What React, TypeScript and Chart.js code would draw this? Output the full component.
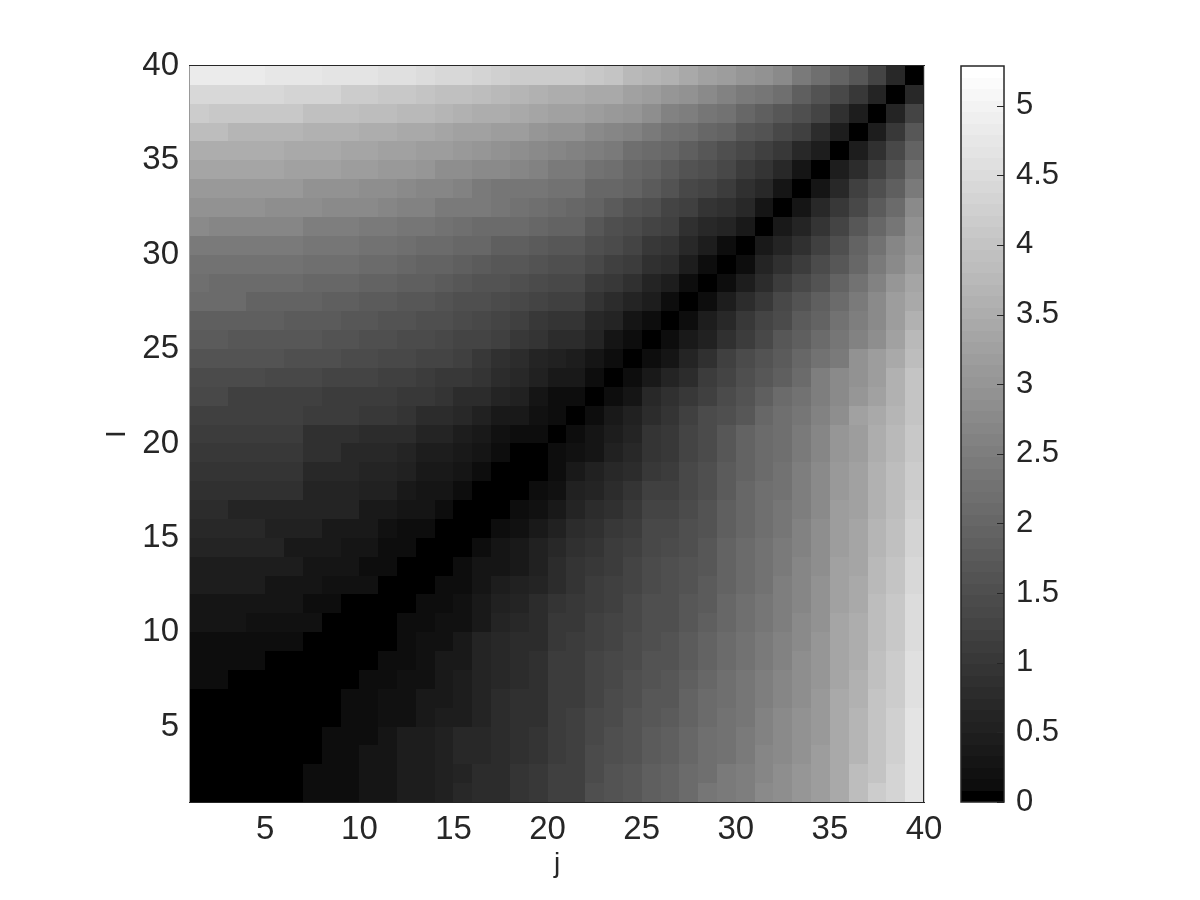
import React, { useEffect, useRef } from "react";
import { Chart, registerables } from "chart.js";

Chart.register(...registerables);

const AXIS_TICKS = [5, 10, 15, 20, 25, 30, 35, 40];
const COLORBAR_TICKS = [0, 0.5, 1, 1.5, 2, 2.5, 3, 3.5, 4, 4.5, 5];
const COLOR_MAX = 5.285;
const LEVELS = 64;

// Colormap level for each cell; row 1 is the bottom row, column 1 the left one.
const cellLevels: number[][] = [
  [0,0,0,0,0,0,1,1,1,3,3,5,5,6,8,9,9,11,12,14,14,18,19,20,22,23,25,28,29,30,33,34,36,38,41,46,50,52,56],
  [0,0,0,0,0,0,1,1,1,3,3,5,5,6,7,9,9,11,12,14,14,17,19,20,22,23,25,26,29,30,32,34,36,38,41,46,48,52,56],
  [0,0,0,0,0,0,0,1,1,3,3,5,5,6,8,8,9,10,11,13,14,17,18,19,21,22,24,26,27,29,32,33,35,38,41,44,48,51,56],
  [0,0,0,0,0,0,0,1,1,1,3,5,5,6,8,8,9,10,11,13,14,16,18,19,21,22,24,26,27,29,31,33,35,37,41,44,48,51,56],
  [0,0,0,0,0,0,0,0,1,1,2,2,4,5,5,7,9,10,10,13,14,16,17,19,20,21,23,25,27,28,31,33,35,37,41,44,48,51,56],
  [0,0,0,0,0,0,0,0,1,1,2,2,4,4,5,7,9,10,10,13,13,15,17,18,20,20,23,25,26,28,30,32,34,37,41,43,48,50,55],
  [1,1,0,0,0,0,0,0,0,1,1,2,2,4,5,7,8,9,10,13,13,15,16,18,19,20,22,24,26,28,30,32,34,36,40,43,47,50,55],
  [1,1,1,1,0,0,0,0,0,0,1,1,2,4,4,7,8,9,10,13,13,15,16,17,19,19,21,23,25,27,29,31,34,36,40,42,47,50,55],
  [1,1,1,1,1,1,0,0,0,0,0,1,2,2,4,7,8,9,9,12,13,14,15,17,18,19,21,23,25,27,29,31,33,36,40,42,46,49,54],
  [3,3,3,2,2,2,2,0,0,0,0,1,1,2,2,4,7,8,9,12,12,14,15,16,18,18,20,22,24,26,28,30,33,35,40,42,46,49,54],
  [3,3,3,3,3,3,1,1,0,0,0,0,1,1,2,4,6,7,9,11,12,13,14,16,18,18,20,21,24,26,28,30,32,35,39,41,46,49,54],
  [5,5,5,5,3,3,3,2,2,2,0,0,0,1,1,3,5,6,7,9,11,13,14,15,17,18,19,21,23,25,27,30,32,35,39,41,45,48,53],
  [5,5,5,5,5,5,3,3,3,1,1,0,0,0,1,3,3,4,6,9,11,12,13,15,17,18,19,20,23,25,27,29,32,34,39,40,45,48,53],
  [7,7,7,7,7,4,4,4,3,3,1,1,0,0,0,1,3,4,6,8,10,11,13,14,16,17,18,20,23,25,27,29,31,34,38,40,44,47,52],
  [8,8,8,8,6,6,6,4,4,4,2,1,1,0,0,0,1,2,4,6,9,10,12,13,16,16,18,19,22,24,26,28,31,34,38,40,44,47,52],
  [9,9,7,7,7,7,7,7,7,4,4,3,3,1,0,0,0,1,2,4,7,9,10,12,15,15,17,19,22,24,26,28,30,33,38,39,43,46,51],
  [10,10,10,10,10,10,7,7,7,6,6,4,3,3,1,0,0,0,1,2,6,7,9,11,14,14,16,18,21,24,26,27,30,33,37,39,43,46,50],
  [11,11,11,11,11,11,8,8,8,7,7,6,4,4,3,1,0,0,0,1,4,6,8,9,12,13,16,18,21,23,25,27,30,33,37,39,43,46,50],
  [12,12,12,12,12,12,10,10,8,8,8,7,5,5,4,3,1,0,0,1,2,3,6,8,11,12,15,17,20,23,25,26,29,32,36,38,42,45,49],
  [13,13,13,13,13,13,10,10,10,9,9,9,7,7,5,4,2,1,1,0,1,3,5,7,11,12,15,17,20,23,25,26,29,32,36,38,42,45,49],
  [14,14,14,14,14,14,13,13,13,12,12,11,9,9,8,6,4,4,2,1,0,1,4,6,9,11,14,17,18,20,24,26,28,31,34,39,41,44,48],
  [16,16,14,14,14,14,14,13,13,13,13,12,12,11,9,9,7,6,3,1,1,0,1,3,8,10,12,14,17,19,22,25,27,30,33,36,39,43,48],
  [17,17,17,17,16,16,16,15,15,15,14,14,13,12,12,11,9,8,6,4,4,1,0,1,4,7,9,13,15,18,20,22,25,30,33,35,38,43,48],
  [19,19,19,19,19,18,18,18,17,17,16,16,15,15,14,12,10,9,7,6,5,3,1,0,1,3,7,10,14,17,19,21,24,27,29,35,38,41,46],
  [21,21,20,20,20,20,20,19,19,18,18,17,17,16,15,15,14,12,11,9,9,7,3,1,0,1,4,6,10,13,16,20,22,25,28,31,34,39,45],
  [22,22,22,22,22,21,21,21,20,20,19,19,18,18,17,16,15,14,12,11,11,8,7,3,1,0,1,5,8,12,15,17,21,23,27,30,33,38,43],
  [25,25,25,23,23,23,23,22,22,21,21,20,20,19,18,18,17,16,15,14,14,11,9,7,5,1,0,1,5,9,12,16,19,22,25,29,33,38,41],
  [26,25,25,25,25,25,24,24,24,23,23,22,22,21,20,19,19,18,17,16,16,13,12,10,7,5,1,0,1,5,9,13,16,19,23,27,31,36,40],
  [27,27,27,27,27,27,26,26,26,25,25,24,23,23,22,21,20,20,19,18,18,16,14,13,10,9,5,1,0,1,7,10,13,17,20,24,29,33,38],
  [29,29,29,29,29,29,28,28,28,27,27,26,25,25,24,24,22,22,21,20,20,18,17,15,12,11,8,5,1,0,4,7,10,14,18,23,27,32,36],
  [33,32,32,32,32,32,30,30,30,29,29,28,28,27,26,25,25,25,24,23,23,20,18,17,15,14,10,8,7,4,0,4,7,11,15,20,24,28,35],
  [35,35,35,35,34,34,34,33,33,33,32,31,31,29,29,29,28,27,26,25,24,23,21,19,18,15,14,11,10,8,3,0,3,8,12,16,21,25,33],
  [37,37,37,37,37,37,35,35,35,34,34,33,32,32,31,29,28,28,28,27,27,24,24,23,21,19,16,15,13,10,8,3,0,3,8,14,18,22,29],
  [40,40,40,40,40,39,39,39,38,38,37,37,36,34,34,33,33,32,31,29,29,27,26,24,23,21,19,18,16,13,11,8,3,0,5,9,14,19,26],
  [42,42,42,42,42,41,41,41,40,40,39,39,38,38,37,36,35,34,33,32,31,30,29,26,25,24,22,20,18,16,14,12,8,5,0,5,10,16,23],
  [46,46,44,44,44,44,43,43,43,42,42,41,41,40,39,39,38,38,36,35,35,33,32,31,29,27,26,24,23,20,19,16,14,9,5,0,5,12,20],
  [50,49,49,49,49,49,47,47,47,46,46,45,45,44,43,42,42,41,40,39,39,38,37,36,34,31,30,28,27,24,22,20,18,15,10,5,0,7,15],
  [53,53,53,53,53,52,52,52,50,50,49,49,48,47,47,46,45,44,43,42,42,41,41,39,38,36,35,33,31,29,28,26,22,19,16,12,7,0,8],
  [58,58,58,58,57,57,57,56,56,56,55,55,54,53,53,52,51,50,50,50,50,49,48,45,44,43,41,39,38,36,35,33,29,26,23,20,15,8,0],
];

const INK = "#262626";
const FONT = "'Liberation Sans', Arial, sans-serif";
const grayOf = (level: number) => {
  const g = level <= 0 ? 0 : Math.min(255, Math.round(13 + (level - 1) * 3.9));
  return `rgb(${g},${g},${g})`;
};
const levelOf = (value: number) => Math.max(0, Math.min(LEVELS - 1, Math.floor((value / COLOR_MAX) * LEVELS)));

const levelStep = COLOR_MAX / LEVELS;
const heatPoints = cellLevels.flatMap((row, r) =>
  row.map((level, c) => ({ x: c + 1, y: r + 1, v: (level + 0.5) * levelStep }))
);
const barPoints = Array.from({ length: LEVELS }, (_, k) => ({ x: 0, y: k * levelStep, v: (k + 0.5) * levelStep }));

const cellPlugin = (dx: number, dy: number) => ({
  id: "cells",
  beforeDatasetsDraw(chart: any) {
    const { ctx, scales } = chart;
    ctx.save();
    for (const p of chart.data.datasets[0].data) {
      const x0 = Math.round(scales.x.getPixelForValue(p.x));
      const x1 = Math.round(scales.x.getPixelForValue(p.x + dx));
      const y0 = Math.round(scales.y.getPixelForValue(p.y));
      const y1 = Math.round(scales.y.getPixelForValue(p.y + dy));
      ctx.fillStyle = grayOf(levelOf(p.v));
      ctx.fillRect(x0, y1, x1 - x0, y0 - y1);
    }
    ctx.restore();
  },
});

const line = (ctx: any, color: string, x0: number, y0: number, x1: number, y1: number) => {
  ctx.strokeStyle = color;
  ctx.beginPath();
  ctx.moveTo(x0, y0);
  ctx.lineTo(x1, y1);
  ctx.stroke();
};

const mainFrame = {
  id: "mainFrame",
  afterDraw(chart: any) {
    const { ctx, chartArea: a } = chart;
    ctx.save();
    ctx.lineWidth = 1;
    line(ctx, "#999999", a.left - 0.5, a.top - 1, a.left - 0.5, a.bottom + 1);
    line(ctx, INK, a.right - 0.5, a.top - 1, a.right - 0.5, a.bottom + 1);
    line(ctx, "#cccccc", a.right + 0.5, a.top - 1, a.right + 0.5, a.bottom + 1);
    line(ctx, INK, a.left - 1, a.top - 0.5, a.right + 1, a.top - 0.5);
    line(ctx, INK, a.left - 1, a.bottom + 0.5, a.right + 1, a.bottom + 0.5);
    ctx.restore();
  },
};

const barFrame = {
  id: "barFrame",
  afterDraw(chart: any) {
    const { ctx, chartArea: a, scales } = chart;
    ctx.save();
    ctx.strokeStyle = INK;
    ctx.lineWidth = 1.5;
    ctx.strokeRect(a.left, a.top, a.right - a.left, a.bottom - a.top);
    ctx.lineWidth = 1;
    for (const t of COLORBAR_TICKS) {
      const y = Math.round(scales.y.getPixelForValue(t)) + 0.5;
      line(ctx, INK, a.right, y, a.right - 7, y);
    }
    ctx.restore();
  },
};

const setTicks = (values: number[]) => (scale: any) => {
  scale.ticks = values.map((value) => ({ value }));
};

const canvasStyle: React.CSSProperties = { position: "absolute", left: 0, top: 0 };

export default function App() {
  const mainRef = useRef<HTMLCanvasElement>(null);
  const barRef = useRef<HTMLCanvasElement>(null);

  useEffect(() => {
    const tickFont = { family: FONT, size: 33 };
    const titleFont = { family: FONT, size: 28 };
    const main = new Chart(mainRef.current!, {
      type: "scatter",
      data: { datasets: [{ data: heatPoints as any, pointRadius: 0, pointHoverRadius: 0 }] },
      plugins: [cellPlugin(1, 1), mainFrame],
      options: {
        responsive: false,
        animation: false,
        events: [],
        layout: { padding: { left: 100, right: 276, top: 66, bottom: 19 } },
        plugins: { legend: { display: false }, tooltip: { enabled: false } },
        scales: {
          x: {
            type: "linear",
            min: 1,
            max: 40,
            afterBuildTicks: setTicks(AXIS_TICKS),
            afterFit: (s: any) => { s.height = 79; },
            grid: { display: false, drawTicks: false },
            border: { display: false },
            ticks: { font: tickFont, color: INK, padding: 8, maxRotation: 0, autoSkip: false, callback: (v: any) => String(v) },
            title: { display: true, text: "j", font: titleFont, color: INK, padding: 0 },
          },
          y: {
            type: "linear",
            min: 1,
            max: 40,
            afterBuildTicks: setTicks(AXIS_TICKS),
            afterFit: (s: any) => { s.width = 90; },
            grid: { display: false, drawTicks: false },
            border: { display: false },
            ticks: { font: tickFont, color: INK, padding: 11, autoSkip: false, labelOffset: 0, callback: (v: any) => String(v) },
            title: { display: true, text: "I", font: titleFont, color: INK, padding: 0 },
          },
        },
      },
    } as any);

    const bar = new Chart(barRef.current!, {
      type: "scatter",
      data: { datasets: [{ data: barPoints as any, pointRadius: 0, pointHoverRadius: 0 }] },
      plugins: [cellPlugin(1, levelStep), barFrame],
      options: {
        responsive: false,
        animation: false,
        events: [],
        layout: { padding: { left: 961, right: 96, top: 66, bottom: 98 } },
        plugins: { legend: { display: false }, tooltip: { enabled: false } },
        scales: {
          x: { type: "linear", min: 0, max: 1, display: false },
          y: {
            type: "linear",
            position: "right",
            min: 0,
            max: COLOR_MAX,
            afterBuildTicks: setTicks(COLORBAR_TICKS),
            afterFit: (s: any) => { s.width = 100; },
            grid: { display: false, drawTicks: false },
            border: { display: false },
            ticks: { font: { family: FONT, size: 31 }, color: INK, padding: 12, autoSkip: false, labelOffset: 0, callback: (v: any) => String(v) },
          },
        },
      },
    } as any);

    return () => {
      main.destroy();
      bar.destroy();
    };
  }, []);

  return (
    <div>
      <canvas ref={mainRef} width={1200} height={900} style={canvasStyle} />
      <canvas ref={barRef} width={1200} height={900} style={canvasStyle} />
    </div>
  );
}
